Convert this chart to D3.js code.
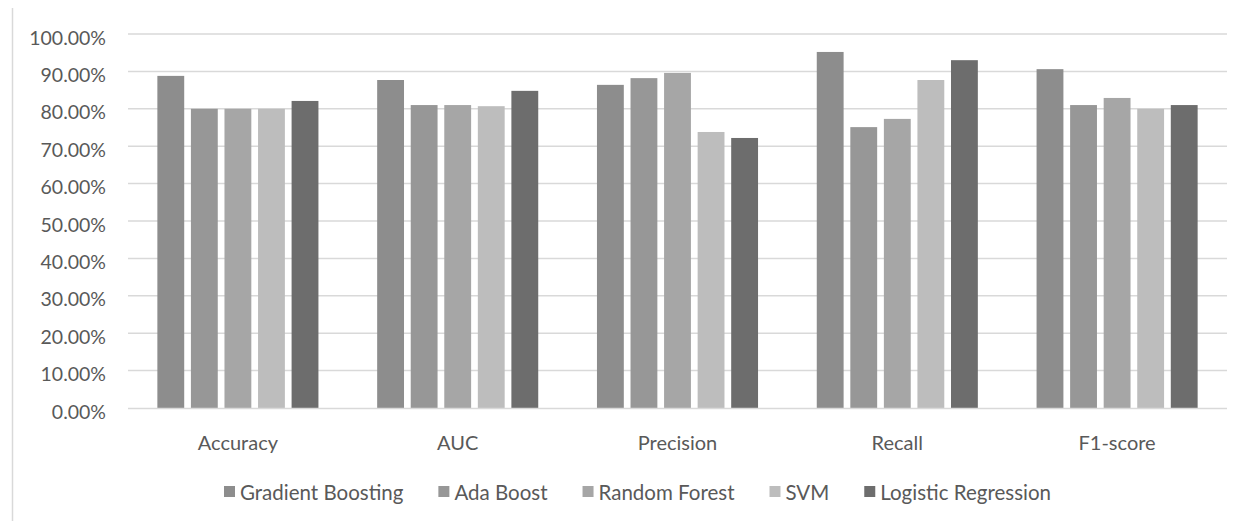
<!DOCTYPE html>
<html>
<head>
<meta charset="utf-8">
<script src="https://cdn.jsdelivr.net/npm/d3@7"></script>
<style>
  html, body { margin: 0; padding: 0; background: #fff; }
  svg { display: block; }
  text { font-family: Lato, "Noto Sans", sans-serif; fill: #595959; }
</style>
</head>
<body>
<svg id="chart" width="1246" height="521"></svg>
<script>
const categories = ["Accuracy", "AUC", "Precision", "Recall", "F1-score"];
const seriesNames = ["Gradient Boosting", "Ada Boost", "Random Forest", "SVM", "Logistic Regression"];
const gradientBoosting = [0.888, 0.877, 0.864, 0.952, 0.906];
const adaBoost         = [0.800, 0.810, 0.882, 0.751, 0.810];
const randomForest     = [0.800, 0.810, 0.896, 0.773, 0.829];
const svm              = [0.800, 0.807, 0.738, 0.877, 0.800];
const logisticReg      = [0.821, 0.848, 0.722, 0.930, 0.810];
const seriesValues = [gradientBoosting, adaBoost, randomForest, svm, logisticReg];
const colors = ["#8d8d8d", "#979797", "#a6a6a6", "#bdbdbd", "#6d6d6d"];
const yTicks = [0, 0.1, 0.2, 0.3, 0.4, 0.5, 0.6, 0.7, 0.8, 0.9, 1.0];

(function () {
const svg = d3.select("#chart");
const mLeft = 128, mRight = 1227, mTop = 34, mBottom = 408;

const x0 = d3.scaleBand().domain(categories).range([mLeft, mRight]).paddingInner(0).paddingOuter(0);
const x1 = d3.scaleBand().domain(seriesNames).range([0, x0.bandwidth()]).paddingInner(0.2).paddingOuter(0.875);
const y = d3.scaleLinear().domain([0, 1]).range([mBottom, mTop]);

// chart border (left)
svg.append("line").attr("x1", 12.5).attr("x2", 12.5).attr("y1", 8).attr("y2", 521)
  .attr("stroke", "#d9d9d9").attr("stroke-width", 1.5);

// gridlines
svg.append("g").selectAll("line").data(yTicks.slice(1)).join("line")
  .attr("x1", mLeft).attr("x2", mRight)
  .attr("y1", d => y(d)).attr("y2", d => y(d))
  .attr("stroke", "#d9d9d9").attr("stroke-width", 1.5);

// y labels
svg.append("g").selectAll("text").data(yTicks).join("text")
  .attr("x", 106).attr("y", d => y(d) + 3)
  .attr("text-anchor", "end").attr("dominant-baseline", "central")
  .style("font-size", "19.5px")
  .text(d => d3.format(".2%")(d));

// bars
const groups = svg.append("g").selectAll("g").data(categories).join("g")
  .attr("transform", d => `translate(${x0(d)},0)`);
groups.selectAll("rect")
  .data((c, ci) => seriesNames.map((s, si) => ({ s, si, v: seriesValues[si][ci] })))
  .join("rect")
  .attr("x", d => x1(d.s))
  .attr("width", x1.bandwidth())
  .attr("y", d => y(d.v))
  .attr("height", d => y(0) - y(d.v))
  .attr("fill", d => colors[d.si]);

// baseline
svg.append("line").attr("x1", mLeft).attr("x2", mRight).attr("y1", mBottom + 0.5).attr("y2", mBottom + 0.5)
  .attr("stroke", "#d9d9d9").attr("stroke-width", 1.5);

// category labels
svg.append("g").selectAll("text").data(categories).join("text")
  .attr("x", d => x0(d) + x0.bandwidth() / 2).attr("y", 442)
  .attr("text-anchor", "middle").attr("dominant-baseline", "central")
  .style("font-size", "20px")
  .text(d => d);

// legend
const legend = svg.append("g");
let lx = 224;
seriesNames.forEach((s, i) => {
  legend.append("rect").attr("x", lx).attr("y", 486).attr("width", 11).attr("height", 11).attr("fill", colors[i]);
  const t = legend.append("text").attr("x", lx + 16).attr("y", 492)
    .attr("dominant-baseline", "central").style("font-size", "20.5px").text(s);
  lx += 16 + t.node().getComputedTextLength() + 35;
});
})();
</script>
</body>
</html>
